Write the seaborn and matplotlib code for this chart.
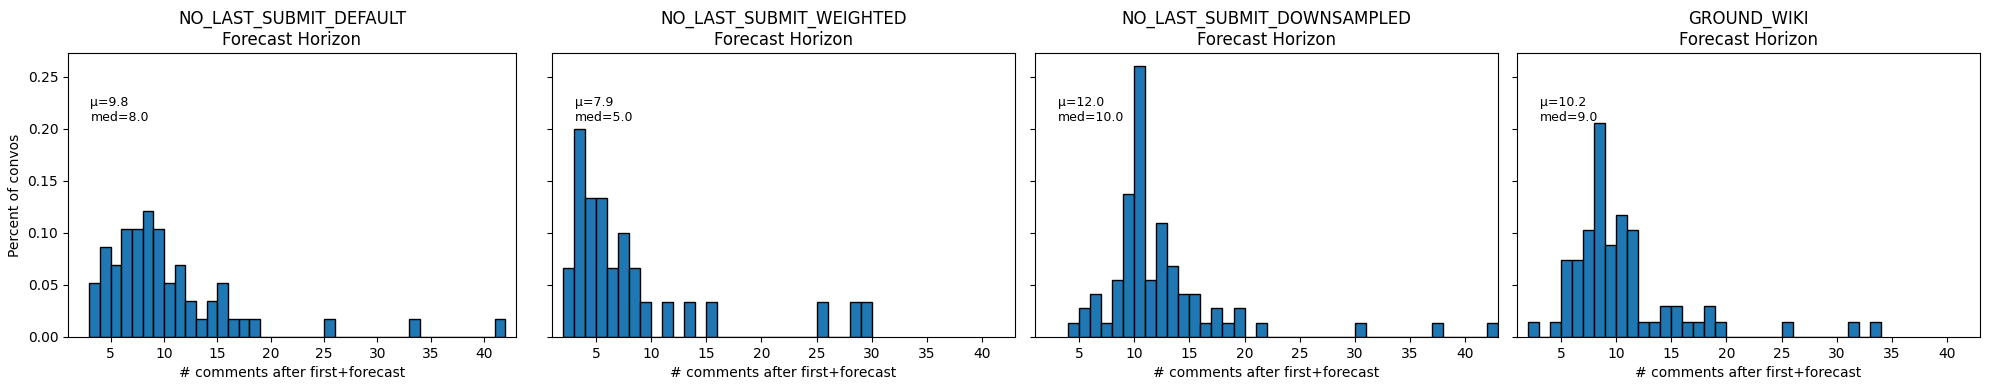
import numpy as np
import pandas as pd
import matplotlib.pyplot as plt
import seaborn as sns

# 각 패널: 댓글 수 값과 그 빈도
titles = ["NO_LAST_SUBMIT_DEFAULT", "NO_LAST_SUBMIT_WEIGHTED",
          "NO_LAST_SUBMIT_DOWNSAMPLED", "GROUND_WIKI"]

default_vals = [3, 4, 5, 6, 7, 8, 9, 10, 11, 12, 13, 14, 15, 16, 17, 18, 25, 33, 41]
default_counts = [3, 5, 4, 6, 6, 7, 6, 3, 4, 2, 1, 2, 3, 1, 1, 1, 1, 1, 1]

weighted_vals = [2, 3, 4, 5, 6, 7, 8, 9, 11, 13, 15, 25, 28, 29]
weighted_counts = [2, 6, 4, 4, 2, 3, 2, 1, 1, 1, 1, 1, 1, 1]

down_vals = [4, 5, 6, 7, 8, 9, 10, 11, 12, 13, 14, 15, 16, 17, 18, 19, 21, 30, 37, 42]
down_counts = [1, 2, 3, 1, 4, 10, 19, 4, 8, 5, 3, 3, 1, 2, 1, 2, 1, 1, 1, 1]

wiki_vals = [2, 4, 5, 6, 7, 8, 9, 10, 11, 12, 13, 14, 15, 16, 17, 18, 19, 25, 31, 33]
wiki_counts = [1, 1, 5, 5, 7, 14, 6, 8, 7, 1, 1, 2, 2, 1, 1, 2, 1, 1, 1, 1]

stat_labels = ["μ=9.8\nmed=8.0", "μ=7.9\nmed=5.0", "μ=12.0\nmed=10.0", "μ=10.2\nmed=9.0"]

panels = [(default_vals, default_counts), (weighted_vals, weighted_counts),
          (down_vals, down_counts), (wiki_vals, wiki_counts)]

fig, axes = plt.subplots(1, 4, figsize=(19.89, 3.9), dpi=100, sharey=True)

# 축 위치 (원본 레이아웃에 맞춤)
lefts = [0.0342, 0.2775, 0.5204, 0.7627]
widths = [0.2252, 0.2328, 0.2328, 0.2328]

for i, ax in enumerate(axes):
    vals, counts = panels[i]
    obs = np.repeat(vals, counts)  # 원래 관측값으로 펼침
    bins = np.arange(min(vals), max(vals) + 2)
    sns.histplot(x=obs, stat="probability", bins=bins,
                 color="#1f77b4", edgecolor="black", linewidth=1, alpha=1, ax=ax)
    ax.set_position([lefts[i], 0.136, widths[i], 0.728])
    ax.set_xlim(1, 43)
    ax.set_title(f"{titles[i]}\nForecast Horizon", fontsize=12)
    ax.set_xlabel("# comments after first+forecast")
    ax.set_ylabel("Percent of convos" if i == 0 else "")
    ax.text(0.05, 0.85, stat_labels[i], transform=ax.transAxes, va="top", fontsize=9)

axes[0].set_ylim(0, 0.273)
axes[0].set_yticks([0, 0.05, 0.10, 0.15, 0.20, 0.25])

plt.savefig("out.png", dpi=100)
